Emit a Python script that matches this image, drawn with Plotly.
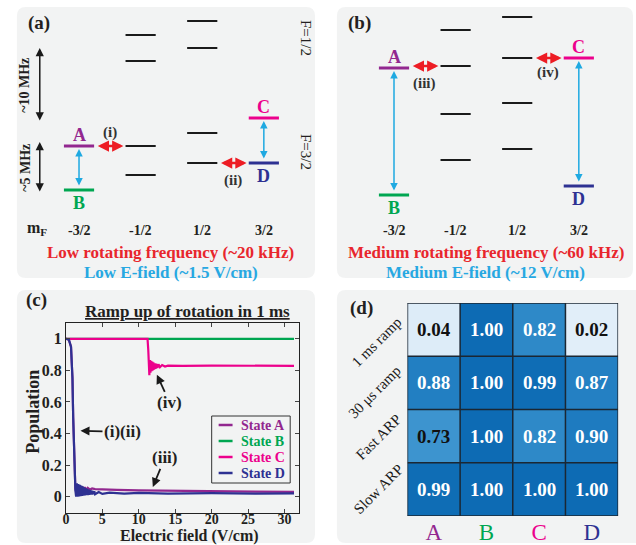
import plotly.graph_objects as go

W, H = 636, 545
SERIF = "Liberation Serif"
INK = "#231f20"
PURPLE = "#92278f"
GREEN = "#00a651"
PINK = "#ec008c"
NAVY = "#2e3192"
RED = "#ed1c24"
CYAN = "#1fa9e1"
RED_TXT = "#e8262d"
CYAN_TXT = "#27a8e2"
PANEL_BG = "#f2f3f3"

# ---------------- data ----------------
MF = [-1.5, -0.5, 0.5, 1.5]
MF_LABELS = ["-3/2", "-1/2", "1/2", "3/2"]
STATE_MF = {"A": -1.5, "B": -1.5, "C": 1.5, "D": 1.5}
STATE_COLORS = {"A": PURPLE, "B": GREEN, "C": PINK, "D": NAVY}

# level energies (arb. units), low rotating frequency / low E-field
LOW_MINUS_HALF = [16.5, 13.9, 5.4, 2.5]
LOW_PLUS_HALF = [17.9, 15.2, 6.7, 3.7]
LOW_STATES = {"A": 5.4, "B": 1.0, "C": 8.2, "D": 3.7}

# level energies (arb. units), medium rotating frequency / medium E-field
MED_MINUS_HALF = [17.0, 13.4, 8.6, 4.0]
MED_PLUS_HALF = [18.3, 14.2, 9.7, 5.1]
MED_STATES = {"A": 13.2, "B": 0.5, "C": 14.2, "D": 1.4}

# populations during a 1 ms ramp of the rotation
A_FIELD = [0, 0.4, 0.7, 0.9, 1.0, 1.1, 1.2, 1.3, 1.45, 1.6, 1.75, 1.9, 2.05,
           2.2, 2.4, 2.6, 2.8, 3.0, 3.3, 3.6, 4, 5, 7, 10, 14, 20, 26, 31.3]
A_POP = [1.0, 0.995, 0.95, 0.75, 0.5, 0.28, 0.12, 0.05, 0.02, 0.075, 0.03,
         0.07, 0.035, 0.065, 0.04, 0.06, 0.042, 0.056, 0.045, 0.052, 0.048,
         0.045, 0.043, 0.04, 0.037, 0.034, 0.032, 0.031]

B_FIELD = [0, 31.3]
B_POP = [1.0, 1.0]

C_FIELD = [0, 11.2, 11.3, 11.38, 11.45, 11.52, 11.6, 11.68, 11.76, 11.84, 11.92,
           12.0, 12.1, 12.2, 12.3, 12.4, 12.55, 12.7, 12.9, 13.2, 13.6, 14, 16,
           20, 25, 31.3]
C_POP = [1.0, 1.0, 0.93, 0.8, 0.77, 0.865, 0.785, 0.86, 0.795, 0.855, 0.8,
         0.85, 0.805, 0.845, 0.81, 0.842, 0.815, 0.838, 0.82, 0.834, 0.824,
         0.83, 0.828, 0.83, 0.828, 0.829]

D_FIELD = [0, 0.4, 0.7, 0.9, 1.0, 1.1, 1.2, 1.3,
           1.4, 1.5, 1.6, 1.7, 1.8, 1.9, 2.0, 2.1, 2.2, 2.3, 2.4, 2.5, 2.6,
           2.7, 2.8, 2.9, 3.0, 3.1, 3.2, 3.3, 3.4, 3.5, 3.6, 3.7, 3.8, 3.9,
           4.0, 4.5, 5, 6, 8, 10, 14, 20, 26, 31.3]
D_POP = [1.0, 0.995, 0.95, 0.75, 0.5, 0.28, 0.12, 0.04,
         0.0, 0.085, 0.0, 0.08, 0.002, 0.075, 0.004, 0.07, 0.005, 0.065,
         0.006, 0.06, 0.008, 0.055, 0.01, 0.05, 0.01, 0.046, 0.012, 0.042,
         0.013, 0.04, 0.014, 0.036, 0.015, 0.034,
         0.016, 0.03, 0.018, 0.026, 0.02, 0.024, 0.02, 0.023, 0.02, 0.021]

LEGEND_ORDER = ["State A", "State B", "State C", "State D"]

# final populations for each transfer method
METHODS = ["1 ms ramp", "30 μs ramp", "Fast ARP", "Slow ARP"]
STATES = ["A", "B", "C", "D"]
FIDELITY = [
    [0.04, 1.00, 0.82, 0.02],
    [0.88, 1.00, 0.99, 0.87],
    [0.73, 1.00, 0.82, 0.90],
    [0.99, 1.00, 1.00, 1.00],
]


# ---------------- helpers ----------------
def X(px):
    return px / W


def Y(py):
    return 1 - py / H


def rounded_rect(x0, y0, x1, y1, r=9):
    pts = (
        f"M {X(x0 + r)},{Y(y0)} L {X(x1 - r)},{Y(y0)} "
        f"Q {X(x1)},{Y(y0)} {X(x1)},{Y(y0 + r)} L {X(x1)},{Y(y1 - r)} "
        f"Q {X(x1)},{Y(y1)} {X(x1 - r)},{Y(y1)} L {X(x0 + r)},{Y(y1)} "
        f"Q {X(x0)},{Y(y1)} {X(x0)},{Y(y1 - r)} L {X(x0)},{Y(y0 + r)} "
        f"Q {X(x0)},{Y(y0)} {X(x0 + r)},{Y(y0)} Z"
    )
    return dict(type="path", path=pts, xref="paper", yref="paper",
                fillcolor=PANEL_BG, line=dict(width=0), layer="below")


def font(size, color=INK, bold=True):
    return dict(family=SERIF, size=size, color=color,
                weight="bold" if bold else "normal")


def label(x, y, text, fnt, xref="paper", yref="paper", angle=0,
          xanchor="center", yanchor="middle"):
    return dict(x=x, y=y, xref=xref, yref=yref, text=text, showarrow=False,
                textangle=angle, xanchor=xanchor, yanchor=yanchor, font=fnt)


def double_arrow(xr, yr, x0, y0, x1, y1, color, width, size):
    return dict(x=x1, y=y1, ax=x0, ay=y0, xref=xr, yref=yr, axref=xr, ayref=yr,
                text="", showarrow=True, arrowhead=2, startarrowhead=2,
                arrowside="end+start", arrowcolor=color, arrowwidth=width,
                arrowsize=size, startarrowsize=size, standoff=0, startstandoff=0)


HALF_W = 0.245  # half width of a level bar (in mF units)

fig = go.Figure()
shapes = [
    rounded_rect(13, 7, 313, 278),
    rounded_rect(335, 7, 633, 278),
    rounded_rect(13, 290, 313, 543),
    rounded_rect(335, 290, 645, 543),
]
annotations = []


def level_diagram(xa, ya, minus_half, plus_half, states, roman, rotating_txt,
                  field_txt, text_cx):
    xr, yr = xa, ya
    # other hyperfine levels (black)
    xs, ys = [], []
    for m, levels in ((-0.5, minus_half), (0.5, plus_half)):
        for e in levels:
            xs += [m - HALF_W, m + HALF_W, None]
            ys += [e, e, None]
    fig.add_trace(go.Scatter(x=xs, y=ys, mode="lines", xaxis=xa, yaxis=ya,
                             line=dict(color="#1a1a1a", width=2),
                             showlegend=False, hoverinfo="skip"))
    # labelled states
    for s, e in states.items():
        m = STATE_MF[s]
        fig.add_trace(go.Scatter(x=[m - HALF_W, m + HALF_W], y=[e, e],
                                 mode="lines", xaxis=xa, yaxis=ya,
                                 line=dict(color=STATE_COLORS[s], width=3),
                                 showlegend=False, hoverinfo="skip"))
        above = s in ("A", "C")
        annotations.append(label(m, e + (1.1 if above else -1.25), s,
                                 font(18, STATE_COLORS[s]), xr, yr))
    # E-field coupling (blue arrows)
    for up, lo in (("A", "B"), ("C", "D")):
        m = STATE_MF[up]
        annotations.append(double_arrow(xr, yr, m, states[lo] + 0.3, m,
                                        states[up] - 0.3, CYAN, 1.5, 1.0))
    # rotation-induced crossings (red arrows) with labels
    for (x0, x1, e, lab, dy) in roman:
        annotations.append(double_arrow(xr, yr, x0, e, x1, e, RED, 2.5, 0.9))
        annotations.append(label((x0 + x1) / 2, e + dy, lab, font(15, "#333"), xr, yr))
    annotations.append(label(X(text_cx), Y(252), rotating_txt, font(17, RED_TXT)))
    annotations.append(label(X(text_cx), Y(272), field_txt, font(17, CYAN_TXT)))
    for m, lab in zip(MF, MF_LABELS):
        annotations.append(label(m, Y(230), lab, font(14), xr, "paper"))


gap = 0.035
level_diagram(
    "x", "y", LOW_MINUS_HALF, LOW_PLUS_HALF, LOW_STATES,
    [(-1.5 + HALF_W + gap, -0.5 - HALF_W - gap, LOW_STATES["A"], "(i)", 1.4),
     (0.5 + HALF_W + gap, 1.5 - HALF_W - gap, LOW_STATES["D"], "(ii)", -1.7)],
    "Low rotating frequency (~20 kHz)", "Low E-field (~1.5 V/cm)", 168)
level_diagram(
    "x2", "y2", MED_MINUS_HALF, MED_PLUS_HALF, MED_STATES,
    [(-1.5 + HALF_W + gap, -0.5 - HALF_W - gap, MED_MINUS_HALF[1], "(iii)", -1.7),
     (0.5 + HALF_W + gap, 1.5 - HALF_W - gap, MED_PLUS_HALF[1], "(iv)", -1.4)],
    "Medium rotating frequency (~60 kHz)", "Medium E-field (~12 V/cm)", 485)

# panel (a) extras: m_F label, scale bars, F labels
annotations.append(label(X(33), Y(229), "m<sub>F</sub>", font(16)))
annotations.append(double_arrow("x", "y", -2.137, 7.8, -2.137, 15.2, "#1a1a1a", 1.5, 1.1))
annotations.append(double_arrow("x", "y", -2.137, 0.7, -2.137, 5.8, "#1a1a1a", 1.5, 1.1))
annotations.append(label(X(21), Y(85), "~10 MHz", font(14), angle=-90))
annotations.append(label(X(21), Y(168), "~5 MHz", font(14), angle=-90))
annotations.append(label(X(304), Y(38), "F=1/2", font(15, bold=False), angle=90))
annotations.append(label(X(304), Y(152), "F=3/2", font(15, bold=False), angle=90))

# panel letters
for lab, cx, cy in (("(a)", 35, 23), ("(b)", 358, 23), ("(c)", 33, 300), ("(d)", 360, 308)):
    annotations.append(label(X(cx), Y(cy), lab, font(19)))

# ---------------- panel (c): populations ----------------
series = {
    "State A": (A_FIELD, A_POP, PURPLE),
    "State B": (B_FIELD, B_POP, GREEN),
    "State C": (C_FIELD, C_POP, PINK),
    "State D": (D_FIELD, D_POP, NAVY),
}
for name in ("State B", "State C", "State A", "State D"):
    xs, ys, col = series[name]
    fig.add_trace(go.Scatter(x=xs, y=ys, mode="lines", xaxis="x3", yaxis="y3",
                             name=name, line=dict(color=col, width=2.2),
                             showlegend=False, hoverinfo="skip"))

# legend box drawn by hand to keep it compact
shapes.append(dict(type="rect", xref="paper", yref="paper", x0=X(209), x1=X(288),
                   y0=Y(483), y1=Y(416), line=dict(color="#333", width=1)))
for k, name in enumerate(LEGEND_ORDER):
    cy = 425 + 16 * k
    col = series[name][2]
    shapes.append(dict(type="line", xref="paper", yref="paper", x0=X(216), x1=X(230),
                       y0=Y(cy), y1=Y(cy), line=dict(color=col, width=2.5)))
    annotations.append(label(X(236), Y(cy), name, font(14, col), xanchor="left"))

annotations += [
    dict(x=12.48, y=0.772, xref="x3", yref="y3", text="(iv)", ax=13, ay=28,
         showarrow=True, arrowhead=2, arrowwidth=1.8, arrowsize=1,
         arrowcolor="#1a1a1a", font=font(17)),
    dict(x=2.0, y=0.417, xref="x3", yref="y3", text="(i)(ii)", ax=42, ay=1,
         showarrow=True, arrowhead=2, arrowwidth=1.8, arrowsize=1,
         arrowcolor="#1a1a1a", font=font(17)),
    dict(x=11.93, y=0.062, xref="x3", yref="y3", text="(iii)", ax=12, ay=-29,
         showarrow=True, arrowhead=2, arrowwidth=1.8, arrowsize=1,
         arrowcolor="#1a1a1a", font=font(17)),
    label(X(185), Y(311), "<u>Ramp up of rotation in 1 ms</u>", font(17)),
    label(X(29), Y(412), "Population", font(18), angle=-90),
    label(X(187), Y(536), "Electric field (V/cm)", font(16)),
]

# ---------------- panel (d): transfer fidelity ----------------
fig.add_trace(go.Heatmap(
    z=FIDELITY, x=list(range(len(STATES))), y=list(range(len(METHODS))),
    xaxis="x4", yaxis="y4", zmin=0, zmax=1, showscale=False,
    colorscale=[[0, "#e6f1fa"], [0.73, "#3d94cf"], [0.82, "#2e89c8"],
                [0.9, "#1e7bc0"], [1, "#0d6bb4"]],
    hoverinfo="skip"))
for i, row in enumerate(FIDELITY):
    for j, v in enumerate(row):
        annotations.append(label(j, i, f"{v:.2f}",
                                 font(19, "#111" if v < 0.75 else "white"),
                                 "x4", "y4"))
for k in range(len(STATES) + 1):
    shapes.append(dict(type="line", xref="x4", yref="y4", x0=k - 0.5, x1=k - 0.5,
                       y0=-0.5, y1=3.5, line=dict(color="#1b2733", width=1.5)))
for k in range(len(METHODS) + 1):
    shapes.append(dict(type="line", xref="x4", yref="y4", y0=k - 0.5, y1=k - 0.5,
                       x0=-0.5, x1=3.5, line=dict(color="#1b2733", width=1.5)))
for lab, (cx, cy) in zip(METHODS, ((375, 342), (373, 392), (377, 437), (377, 489))):
    annotations.append(label(X(cx), Y(cy), lab, font(15, "#1a1a1a", bold=False),
                             angle=-45))

hidden = dict(visible=False, fixedrange=True)
fig.update_layout(
    width=W, height=H, margin=dict(l=0, r=0, t=0, b=0),
    paper_bgcolor="white", plot_bgcolor="rgba(0,0,0,0)", showlegend=False,
    xaxis=dict(domain=[X(13), X(313)], range=[-2.508, 2.331], **hidden),
    yaxis=dict(domain=[Y(278), Y(7)], range=[-7.8, 19.3], **hidden),
    xaxis2=dict(domain=[X(335), X(634)], range=[-2.427, 2.396], anchor="y2", **hidden),
    yaxis2=dict(domain=[Y(278), Y(7)], range=[-7.8, 19.3], anchor="x2", **hidden),
    xaxis3=dict(domain=[X(62.3), X(297)], range=[0, 32], anchor="y3",
                tickvals=[0, 5, 10, 15, 20, 25, 30], ticks="inside", ticklen=4,
                showline=True, linecolor="#222", linewidth=1, mirror="ticks",
                showgrid=False, zeroline=False, tickfont=font(14),
                ticklabelstandoff=-6),
    yaxis3=dict(domain=[Y(512.5), Y(323)], range=[-0.1, 1.1], anchor="x3",
                tickvals=[0, 0.2, 0.4, 0.6, 0.8, 1],
                ticktext=["0", "0.2", "0.4", "0.6", "0.8", "1"],
                ticks="inside", ticklen=4,
                showline=True, linecolor="#222", linewidth=1, mirror="ticks",
                showgrid=False, zeroline=False, tickfont=font(16)),
    xaxis4=dict(domain=[X(406), X(618)], range=[-0.5, 3.5], anchor="y4",
                tickvals=list(range(len(STATES))),
                ticktext=[f'<span style="color:{STATE_COLORS[s]}">{s}</span>' for s in STATES],
                tickfont=dict(family=SERIF, size=23), ticks="", showgrid=False,
                zeroline=False, showline=False, fixedrange=True),
    yaxis4=dict(domain=[Y(516), Y(303)], range=[3.5, -0.5], anchor="x4",
                showticklabels=False, ticks="", showgrid=False, zeroline=False,
                fixedrange=True),
    shapes=shapes, annotations=annotations,
)

fig.write_html("out.html")
